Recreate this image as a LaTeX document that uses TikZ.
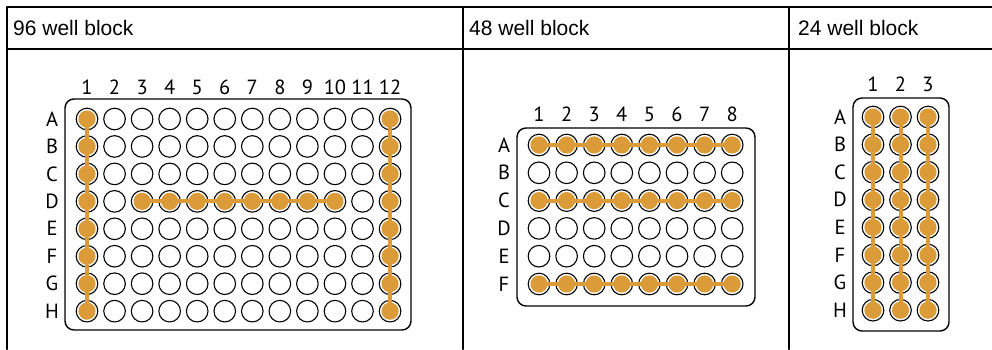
\documentclass[tikz,border=0pt]{standalone}
\usepackage{fontspec}
\setmainfont{Liberation Sans}
\newfontfamily\platefont{PT Sans}
\definecolor{wellorange}{RGB}{219,155,56}
\tikzset{
  grid/.style={line width=2pt},
  header/.style={anchor=base west,inner sep=0pt,font=\fontsize{21}{25}\selectfont},
  plate/.style={line width=1.4pt,rounded corners=9pt},
  lbl/.style={inner sep=0pt,font=\platefont\fontsize{20.5}{20.5}\selectfont},
  well/.style={circle,draw,line width=1.1pt,minimum size=21.6pt,inner sep=0pt},
  dot/.style={fill=wellorange},
  link/.style={draw=wellorange,line width=4pt}
}
\begin{document}
\begin{tikzpicture}[x=1pt,y=-1pt,line join=round,line cap=round]
	\useasboundingbox (0,0) rectangle (992,349);
	
	% table frame
	\draw[grid] (7,349) -- (7,7) -- (992,7);
	\draw[grid] (7,49) -- (992,49);
	\draw[grid] (463,7) -- (463,349);
	\draw[grid] (789,7) -- (789,349);
	
	\node[header] (h96) at (13,35.5) {96 well block};
	\node[header] (h48) at (469,35.5) {48 well block};
	\node[header] (h24) at (798,35.5) {24 well block};
	
	% 96 well block
	\draw[plate] (65,99) rectangle (411,330);
	\foreach \c in {1,...,12}
	\node[lbl] (c96-\c) at ({87+27.55*(\c-1)},87) {\c};
	\foreach \r [count=\j] in {A,B,C,D,E,F,G,H} {
		\node[lbl] (r96-\r) at (52,{119+27.45*(\j-1)}) {\r};
		\foreach \c in {1,...,12}
		\node[well] (w96-\r\c) at ({87+27.55*(\c-1)},{119+27.45*(\j-1)}) {};
	}
	\foreach \w in {A1,B1,C1,D1,E1,F1,G1,H1,A12,B12,C12,D12,E12,F12,G12,H12,D3,D4,D5,D6,D7,D8,D9,D10}
	\fill[dot] (w96-\w) circle (8.6pt);
	\draw[link] (w96-A1.center) -- (w96-H1.center);
	\draw[link] (w96-A12.center) -- (w96-H12.center);
	\draw[link] (w96-D3.center) -- (w96-D10.center);
	
	% 48 well block
	\draw[plate] (517,128) rectangle (755,306);
	\foreach \c in {1,...,8}
	\node[lbl] (c48-\c) at ({539+27.6*(\c-1)},114) {\c};
	\foreach \r [count=\j] in {A,B,C,D,E,F} {
		\node[lbl] (r48-\r) at (504,{145+27.8*(\j-1)}) {\r};
		\foreach \c in {1,...,8}
		\node[well] (w48-\r\c) at ({539+27.6*(\c-1)},{145+27.8*(\j-1)}) {};
	}
	\foreach \r in {A,C,F} {
		\foreach \c in {1,...,8}
		\fill[dot] (w48-\r\c) circle (8.6pt);
		\draw[link] (w48-\r1.center) -- (w48-\r8.center);
	}
	
	% 24 well block
	\draw[plate] (853,98) rectangle (949,331);
	\foreach \c in {1,2,3}
	\node[lbl] (c24-\c) at ({873+27.5*(\c-1)},84) {\c};
	\foreach \r [count=\j] in {A,B,C,D,E,F,G,H} {
		\node[lbl] (r24-\r) at (840,{117+27.6*(\j-1)}) {\r};
		\foreach \c in {1,2,3} {
			\node[well] (w24-\r\c) at ({873+27.5*(\c-1)},{117+27.6*(\j-1)}) {};
			\fill[dot] (w24-\r\c) circle (8.6pt);
		}
	}
	\foreach \c in {1,2,3}
	\draw[link] (w24-A\c.center) -- (w24-H\c.center);
\end{tikzpicture}
\end{document}
